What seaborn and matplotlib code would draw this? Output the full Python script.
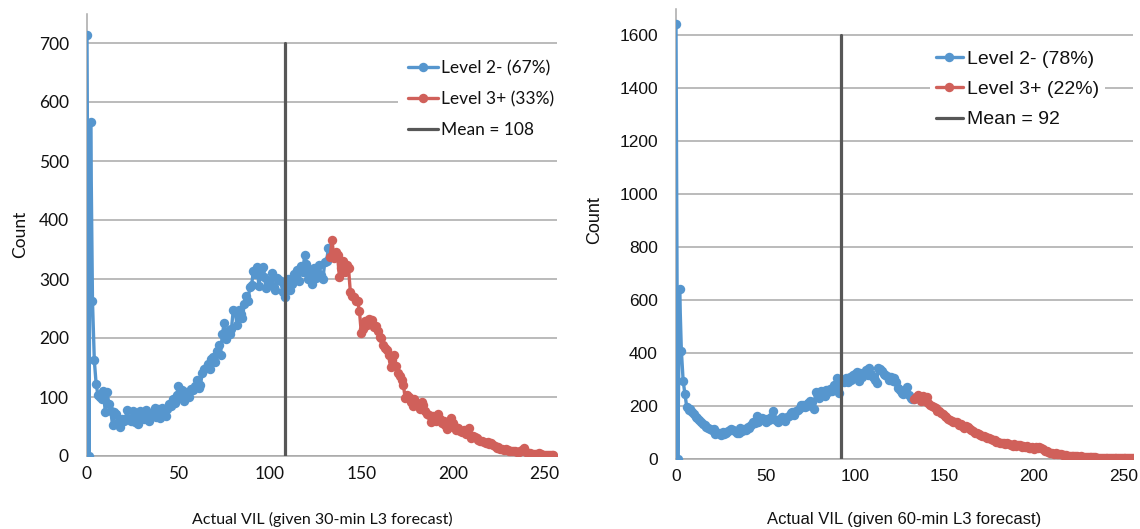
import numpy as np
import pandas as pd
import matplotlib
matplotlib.use("Agg")
import matplotlib.pyplot as plt
import seaborn as sns

# ---------------- data ----------------
# Left panel: actual VIL given 30-min L3 forecast
left_blue_x = list(range(0, 134))
left_blue_y = [713, 0, 566, 262, 162, 122, 103, 100, 96, 110,
               74, 108, 88, 76, 52, 75, 72, 58, 50, 62,
               60, 63, 78, 62, 60, 76, 58, 66, 54, 76,
               70, 62, 78, 66, 60, 72, 70, 82, 66, 80,
               64, 82, 72, 68, 80, 88, 84, 96, 90, 104,
               118, 98, 112, 94, 108, 104, 100, 114, 112, 118,
               128, 116, 120, 140, 148, 150, 156, 148, 164, 168,
               160, 178, 188, 172, 206, 225, 198, 212, 206, 216,
               248, 246, 222, 248, 240, 234, 258, 272, 262, 286,
               290, 314, 308, 320, 288, 316, 320, 304, 284, 296,
               292, 310, 286, 282, 302, 298, 296, 278, 270, 292,
               300, 282, 292, 308, 300, 316, 296, 322, 312, 340,
               326, 300, 316, 292, 318, 302, 306, 324, 306, 300,
               328, 330, 352, 338]
left_red_x = list(range(133, 256))
left_red_y = [338, 366, 335, 345, 340, 304, 318, 330, 312, 324,
              318, 278, 272, 270, 262, 262, 245, 208, 216, 228,
              222, 232, 226, 230, 218, 220, 212, 202, 200, 188,
              183, 180, 172, 151, 162, 171, 152, 140, 135, 129,
              120, 98, 104, 100, 92, 84, 96, 90, 86, 80,
              92, 86, 76, 72, 70, 58, 68, 62, 60, 72,
              62, 56, 60, 52, 46, 50, 64, 56, 50, 44,
              48, 42, 40, 44, 38, 42, 47, 30, 34, 32,
              30, 27, 26, 25, 24, 22, 24, 20, 22, 18,
              17, 14, 16, 12, 12, 10, 12, 10, 9, 8,
              9, 8, 6, 7, 9, 10, 13, 6, 5, 5,
              4, 4, 3, 4, 5, 3, 2, 2, 2, 1,
              1, 1, 1]
left_mean = 108
left_labels = ["Level 2- (67%)", "Level 3+ (33%)", "Mean = 108"]
left_yticks = [0, 100, 200, 300, 400, 500, 600, 700]

# Right panel: actual VIL given 60-min L3 forecast
right_blue_x = list(range(0, 134))
right_blue_y = [1640, 0, 640, 408, 294, 245, 196, 186, 188, 176,
                170, 160, 155, 146, 140, 132, 128, 120, 118, 112,
                110, 114, 96, 100, 98, 92, 102, 96, 98, 104,
                110, 115, 108, 104, 100, 98, 118, 104, 112, 110,
                120, 118, 128, 140, 136, 162, 140, 146, 156, 152,
                140, 150, 148, 160, 180, 150, 148, 140, 152, 158,
                150, 145, 158, 164, 172, 178, 166, 180, 184, 192,
                202, 204, 196, 200, 210, 218, 216, 190, 254, 250,
                230, 256, 248, 236, 260, 252, 266, 258, 280, 266,
                304, 250, 294, 298, 290, 304, 292, 310, 300, 318,
                322, 330, 296, 324, 310, 320, 336, 316, 342, 322,
                310, 298, 288, 342, 338, 332, 322, 318, 312, 300,
                308, 296, 305, 290, 267, 260, 250, 244, 262, 273,
                240, 232, 228, 225]
right_red_x = list(range(133, 256))
right_red_y = [225, 235, 240, 230, 220, 236, 218, 235, 210, 205,
               200, 198, 192, 182, 180, 175, 168, 164, 160, 152,
               148, 145, 141, 138, 140, 130, 132, 126, 118, 124,
               122, 112, 108, 104, 100, 98, 96, 92, 86, 88,
               82, 80, 78, 76, 70, 72, 66, 64, 62, 60,
               60, 58, 62, 55, 54, 50, 56, 48, 52, 53,
               46, 50, 44, 48, 42, 40, 44, 38, 46, 42,
               46, 40, 36, 32, 30, 26, 24, 22, 20, 22,
               18, 20, 17, 16, 15, 14, 13, 12, 12, 11,
               10, 10, 9, 10, 8, 9, 8, 7, 7, 6,
               6, 6, 5, 5, 5, 5, 4, 4, 4, 4,
               3, 3, 3, 3, 3, 3, 2, 2, 2, 2,
               2, 2, 2]
right_mean = 92
right_labels = ["Level 2- (78%)", "Level 3+ (22%)", "Mean = 92"]
right_yticks = [0, 200, 400, 600, 800, 1000, 1200, 1400, 1600]

xticks = [0, 50, 100, 150, 200, 250]

# ---------------- style ----------------
sns.set_style("white")
BLUE = "#5696CE"
RED = "#D0605A"
MEAN_C = "#575757"
GRID_C = "#A8A8A8"
TXT = "#111111"

fig = plt.figure(figsize=(11.4, 5.29), dpi=100)
ax1 = fig.add_axes([87 / 1140, 73 / 529, 470 / 1140, 442.5 / 529])
ax2 = fig.add_axes([676 / 1140, 70 / 529, 456.5 / 1140, 450.5 / 529])


def draw(ax, bx, by, rx, ry, mean, mean_top, labels, yticks, ylim, xlim,
         family, tick_fs, lab_fs, leg_fs, xlabel, leg_anchor, leg_spacing,
         leg_pad, handle_len, xlab_y, ylab_xy):
    df_b = pd.DataFrame({"x": bx, "y": by})
    df_r = pd.DataFrame({"x": rx, "y": ry})
    df_m = pd.DataFrame({"x": [mean, mean], "y": [0, mean_top]})
    kw = dict(marker="o", markersize=6.8, markeredgewidth=0, linewidth=2.4,
              sort=False, estimator=None, ax=ax)
    sns.lineplot(data=df_b, x="x", y="y", color=BLUE, label=labels[0], zorder=3, **kw)
    sns.lineplot(data=df_r, x="x", y="y", color=RED, label=labels[1], zorder=3, **kw)
    sns.lineplot(data=df_m, x="x", y="y", color=MEAN_C, linewidth=2.3,
                 label=labels[2], sort=False, estimator=None, ax=ax, zorder=4)

    ax.set_xlim(*xlim)
    ax.set_ylim(*ylim)
    ax.set_xticks(xticks)
    ax.set_yticks(yticks)
    ax.set_xticklabels([str(t) for t in xticks], fontsize=tick_fs,
                       family=family, color=TXT)
    ax.set_yticklabels([str(t) for t in yticks], fontsize=tick_fs,
                       family=family, color=TXT)
    ax.yaxis.grid(True, color=GRID_C, linewidth=1.1)
    ax.xaxis.grid(False)
    ax.set_axisbelow(True)
    for s in ["top", "right"]:
        ax.spines[s].set_visible(False)
    for s in ["left", "bottom"]:
        ax.spines[s].set_color(GRID_C)
        ax.spines[s].set_linewidth(1.1)
    ax.tick_params(axis="x", direction="out", length=4.5, width=1.1,
                   color=GRID_C, pad=2.5)
    ax.tick_params(axis="y", direction="out", length=4.5, width=1.1,
                   color=GRID_C, pad=8.5)
    ax.set_xlabel(xlabel, fontsize=lab_fs, family=family, color=TXT, va="top")
    ax.xaxis.set_label_coords(0.5, xlab_y)
    ax.set_ylabel("Count", fontsize=lab_fs + 1, family=family, color=TXT)
    ax.yaxis.set_label_coords(*ylab_xy)

    leg = ax.legend(loc="upper left", bbox_to_anchor=leg_anchor,
                    frameon=True, facecolor="white", edgecolor="none",
                    framealpha=1.0, fancybox=False,
                    prop={"family": family, "size": leg_fs},
                    handlelength=handle_len, handletextpad=0.2,
                    labelspacing=leg_spacing, borderpad=leg_pad,
                    borderaxespad=0.0, numpoints=1)
    for t in leg.get_texts():
        t.set_color(TXT)
    leg.set_zorder(5)


draw(ax1, left_blue_x, left_blue_y, left_red_x, left_red_y, left_mean, 700,
     left_labels, left_yticks, (0, 750), (0, 257), "Lato",
     12.5, 11.5, 12.5, "Actual VIL (given 30-min L3 forecast)",
     (0.661, 0.918), 0.86, 0.6, 1.7, -0.127, (-0.125, 0.5))

draw(ax2, right_blue_x, right_blue_y, right_red_x, right_red_y, right_mean, 1600,
     right_labels, right_yticks, (0, 1700), (0, 255), "Liberation Sans",
     12.5, 12, 14, "Actual VIL (given 60-min L3 forecast)",
     (0.556, 0.921), 0.66, 0.3, 1.4, -0.118, (-0.159, 0.53))

fig.savefig("out.png", dpi=100)
